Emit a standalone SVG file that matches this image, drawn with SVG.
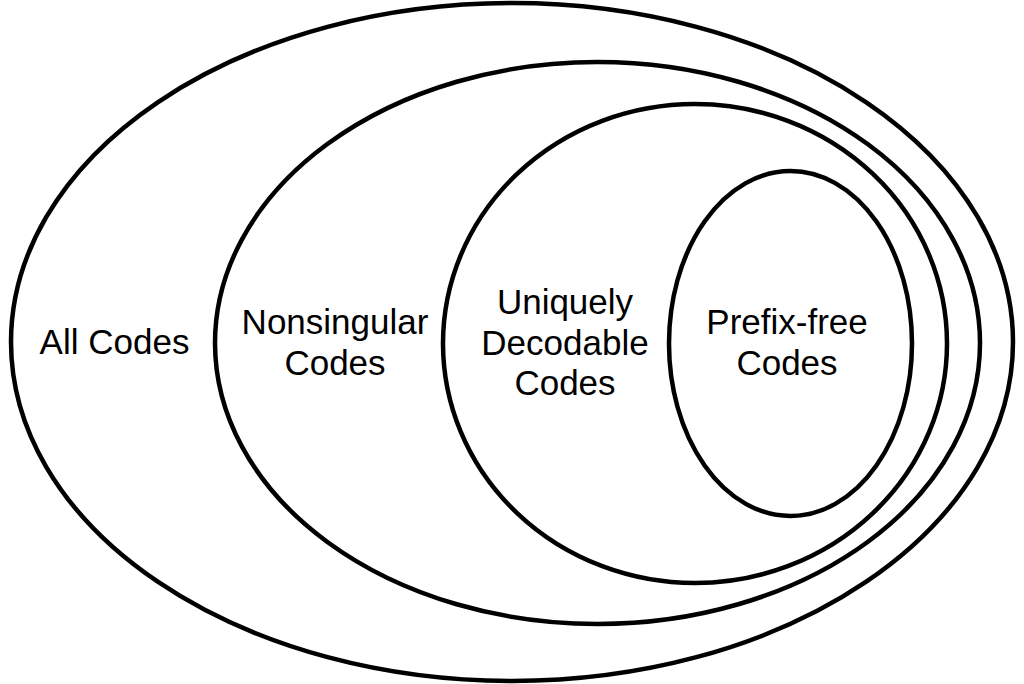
<svg xmlns="http://www.w3.org/2000/svg" width="1024" height="684" viewBox="0 0 1024 684">
<style>
.set{fill:none;stroke:#000;stroke-width:4.5}
.lbl{font-family:"Liberation Sans",Arial,sans-serif;font-size:35px;fill:#000;text-anchor:middle}
</style>
<rect width="1024" height="684" fill="#fff"/>
<g id="all-codes">
<ellipse class="set" cx="512" cy="342" rx="501" ry="339"/>
<text class="lbl" x="114.5" y="354">All Codes</text>
</g>
<g id="nonsingular-codes">
<ellipse class="set" cx="597.5" cy="343" rx="382.5" ry="281"/>
<text class="lbl" x="335" y="334">Nonsingular</text>
<text class="lbl" x="335" y="375">Codes</text>
</g>
<g id="uniquely-decodable-codes">
<ellipse class="set" cx="695" cy="343.5" rx="252" ry="239.5"/>
<text class="lbl" x="565" y="314">Uniquely</text>
<text class="lbl" x="565" y="355">Decodable</text>
<text class="lbl" x="565" y="395">Codes</text>
</g>
<g id="prefix-free-codes">
<ellipse class="set" cx="790.5" cy="343.5" rx="121.5" ry="172.5"/>
<text class="lbl" x="787" y="334">Prefix-free</text>
<text class="lbl" x="787" y="375">Codes</text>
</g>
<g id="connectors"/>
</svg>
